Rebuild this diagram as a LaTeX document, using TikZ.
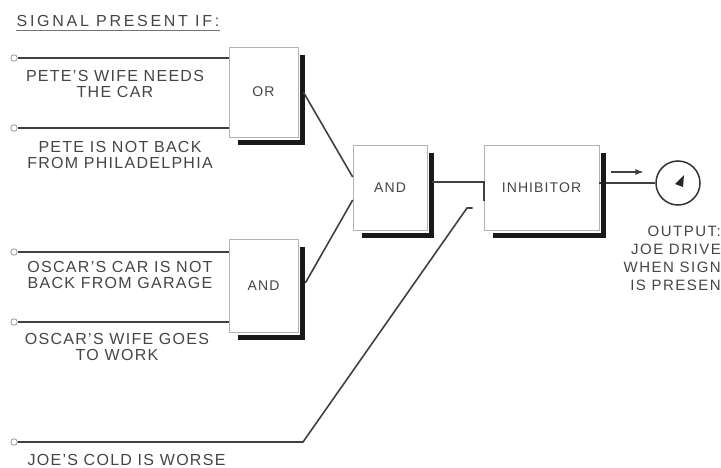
\documentclass[tikz,border=0pt]{standalone}
\usepackage{fontspec}
\setmainfont{Liberation Sans}[LetterSpace=8]
\usetikzlibrary{positioning,shapes,arrows,arrows.meta}
\definecolor{ink}{gray}{0.27}

\begin{document}
\begin{tikzpicture}[x=1pt,y=-1pt,
    wire/.style={black!75,line width=1.6pt},
    gate/.style={draw=black!30,line width=0.6pt,fill=white,inner sep=0pt,text=ink,font=\fontsize{14}{14}\selectfont},
    gshadow/.style={black!90,line width=4.5pt},
    term/.style={circle,draw=black!40,line width=0.8pt,fill=white,inner sep=0pt,minimum size=6.5pt},
    lab/.style={align=center,inner sep=0pt,text=ink,font=\fontsize{16}{16}\selectfont}]
%  \draw[help lines,step=20] (0,0) grid (721,468);
  \useasboundingbox (0,0) rectangle (721,468);

  \node[lab,font=\fontsize{16}{16}\selectfont\addfontfeature{LetterSpace=17}] (title) at (118,21) {SIGNAL PRESENT IF:};
  \draw[black!55,line width=0.9pt] ([yshift=-4pt]title.south west) -- ([yshift=-4pt]title.south east);

  \node[gate,minimum width=69pt,minimum height=90pt]  (gateor)  at (263.5,92)    {OR};
  \node[gate,minimum width=74pt,minimum height=85pt]  (gateand) at (390,187.5)   {AND};
  \node[gate,minimum width=69pt,minimum height=93pt]  (gatelow) at (263.5,285.5) {AND};
  \node[gate,minimum width=115pt,minimum height=85pt] (inhib)   at (541.5,187.5) {INHIBITOR};

  \node[circle,draw=black!80,line width=1.5pt,minimum size=44pt,inner sep=0pt] (meter) at (678,183) {};
  \draw[wire] (meter.west -| inhib.east) -- (meter.west);

  \foreach \g in {gateor,gateand,gatelow,inhib}
    \draw[gshadow] ([xshift=4pt,yshift=-8pt]\g.north east) |- ([xshift=9pt,yshift=-5pt]\g.south west);

  \node[term] (p1) at (14,58)  {};
  \node[term] (p2) at (14,128) {};
  \node[term] (p3) at (14,252) {};
  \node[term] (p4) at (14,322) {};
  \node[term] (p5) at (14,442) {};

  \draw[wire] (p1) -- (p1 -| gateor.west);
  \draw[wire] (p2) -- (p2 -| gateor.west);
  \draw[wire] (p3) -- (p3 -| gatelow.west);
  \draw[wire] (p4) -- (p4 -| gatelow.west);

  \node[lab] (l1) at (115,84)    {PETE'S WIFE NEEDS\\THE CAR};
  \node[lab] (l2) at (120,154.5) {PETE IS NOT BACK\\FROM PHILADELPHIA};
  \node[lab] (l3) at (120,275)   {OSCAR'S CAR IS NOT\\BACK FROM GARAGE};
  \node[lab] (l4) at (117,347)   {OSCAR'S WIFE GOES\\TO WORK};
  \node[lab] (l5) at (126.5,460) {JOE'S COLD IS WORSE};

  \draw[wire] ([xshift=5pt]gateor.east) -- ([yshift=10.5pt]gateand.west);
  \draw[wire] ([xshift=7pt,yshift=2.5pt]gatelow.east) -- ([yshift=-12.5pt]gateand.west);
  \draw[wire] ([xshift=5pt,yshift=5.5pt]gateand.east) -| ([yshift=-14pt]inhib.west);

  % inhibit input
  \coordinate (k1) at (303,442);
  \coordinate (k2) at (467,208);
  \draw[wire] (p5) -- (k1) -- (k2) -- ([xshift=-11pt,yshift=-20.5pt]inhib.west);

  \draw[wire,-{Latex[length=9pt,width=6pt]}] ([xshift=-44pt,yshift=11pt]meter.west) -- ++(33,0);
  \fill[black!85] ([shift={(6,-8)}]meter.center) -- ([shift={(-3,1)}]meter.center) -- ([shift={(5,4)}]meter.center) -- cycle;

  \node[lab,align=right,anchor=north east,font=\fontsize{15}{18}\selectfont\addfontfeature{LetterSpace=10}] (outtxt) at (721,226) {OUTPUT:\\JOE DRIVE\\WHEN SIGN\\IS PRESEN};
\end{tikzpicture}
\end{document}
